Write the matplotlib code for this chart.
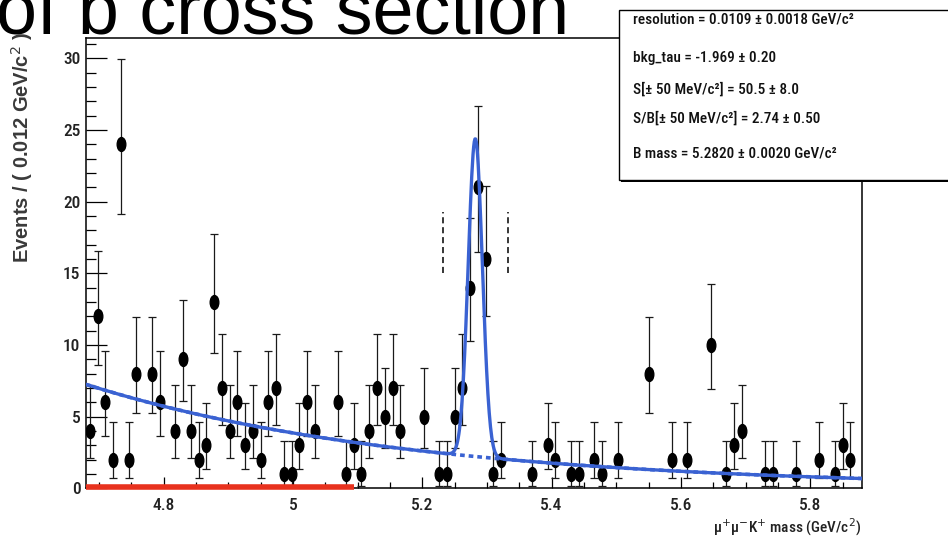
import os
import numpy as np
import matplotlib
matplotlib.use("Agg")
import matplotlib.pyplot as plt
from matplotlib import font_manager as fm
from matplotlib.path import Path
from matplotlib.transforms import Affine2D
from matplotlib.patches import Rectangle
from matplotlib.ticker import FixedLocator, MultipleLocator

# ---- binned mu+ mu- K+ invariant mass spectrum ----
mass_low = 4.68
mass_high = 5.88
bin_width = 0.012
counts = [
    4, 12, 6, 2, 24, 2, 8, 0, 8, 6,
    0, 4, 9, 4, 2, 3, 13, 7, 4, 6,
    3, 4, 2, 6, 7, 1, 1, 3, 6, 4,
    0, 0, 6, 1, 3, 1, 4, 7, 5, 7,
    4, 0, 0, 5, 0, 1, 1, 5, 7, 14,
    21, 16, 1, 2, 0, 0, 0, 1, 0, 3,
    2, 0, 1, 1, 0, 2, 1, 0, 2, 0,
    0, 0, 8, 0, 0, 2, 0, 2, 0, 0,
    10, 0, 1, 3, 4, 0, 0, 1, 1, 0,
    0, 1, 0, 0, 2, 0, 1, 3, 2, 0,
]

# ---- fit result: Gaussian signal on an exponential background ----
b_mass = 5.2820
resolution = 0.0109
bkg_tau = -1.969
n_signal = 50.5
bkg_per_bin_at_low = 7.25      # background expectation per bin at mass_low
signal_window = 0.050          # +-50 MeV/c^2
sideband_high = 5.095

fit_lines = [
    "resolution = 0.0109 ± 0.0018 GeV/c²",
    "bkg_tau = -1.969 ± 0.20",
    "S[± 50 MeV/c²] = 50.5 ± 8.0",
    "S/B[± 50 MeV/c²] = 2.74 ± 0.50",
    "B mass = 5.2820 ± 0.0020 GeV/c²",
]
fit_line_y_px = [19, 58, 89, 118, 153]

x_ticks = [4.8, 5.0, 5.2, 5.4, 5.6, 5.8]
x_tick_labels = ["4.8", "5", "5.2", "5.4", "5.6", "5.8"]
y_ticks = [0, 5, 10, 15, 20, 25, 30]
y_tick_labels = ["0", "5", "10", "15", "20", "25", "30"]


def narrow_font():
    """Pick an installed narrow/condensed sans face; fall back to Liberation Sans."""
    prefs = ["liberationsansnarrow-regular", "robotocondensed-medium",
             "robotocondensed-regular", "opensans_condensed-regular",
             "opensanscondensed", "dejavusanscondensed.ttf",
             "notosans-condensed.ttf", "notosanscondensed-regular"]
    files = {os.path.basename(f.fname).lower(): f.fname for f in fm.fontManager.ttflist}
    for p in prefs:
        for name, path in files.items():
            if name.startswith(p) or name == p:
                return fm.FontProperties(fname=path), 1.0
    for name, path in files.items():
        if ("narrow" in name or "condensed" in name) and "bold" not in name \
                and "italic" not in name and "oblique" not in name and "light" not in name:
            return fm.FontProperties(fname=path), 1.0
    return fm.FontProperties(family="Liberation Sans"), 0.82


W, H, DPI = 948, 541, 100
BLUE = "#3a62d2"
narrow, nscale = narrow_font()


def nfp(size):
    fp = narrow.copy()
    fp.set_size(size * nscale)
    return fp


fig = plt.figure(figsize=(W / DPI, H / DPI), dpi=DPI)
fig.patch.set_facecolor("white")

# plot frame in pixel geometry
x0, x1 = 86, 862
y_top, y_bot = 37.5, 488.3
ax = fig.add_axes([x0 / W, (H - y_bot) / H, (x1 - x0) / W, (y_bot - y_top) / H])
ax.set_xlim(mass_low, mass_high)
ax.set_ylim(0, 31.45)

# data points with Poisson (Gehrels) intervals, empty bins not shown
n = np.asarray(counts, dtype=float)
centers = mass_low + bin_width * (np.arange(n.size) + 0.5)
keep = n > 0
nk = n[keep]
upper = nk + np.sqrt(nk + 0.75) + 1.0
lower = nk * (1.0 - 1.0 / (9.0 * nk) - 1.0 / (3.0 * np.sqrt(nk))) ** 3
ellipse = Path(Affine2D().scale(0.62, 1.0).transform(Path.unit_circle().vertices),
               Path.unit_circle().codes)
ax.errorbar(centers[keep], nk, yerr=[nk - lower, upper - nk], fmt="none",
            ecolor="#1a1a1a", elinewidth=0.9, capsize=3.2, capthick=0.9, zorder=3)
ax.plot(centers[keep], nk, linestyle="none", marker=ellipse, markersize=10,
        color="black", zorder=4)

# fit curves
xf = np.linspace(mass_low, mass_high, 1200)
bkg = bkg_per_bin_at_low * np.exp(bkg_tau * (xf - mass_low))
sig = n_signal * bin_width / (np.sqrt(2 * np.pi) * resolution) * \
    np.exp(-0.5 * ((xf - b_mass) / resolution) ** 2)
ax.plot(xf, bkg, color=BLUE, lw=2.6, dashes=(1.3, 1.1), zorder=5)
ax.plot(xf, bkg + sig, color=BLUE, lw=2.4, zorder=6)

# signal window markers
for xv in (b_mass - signal_window, b_mass + signal_window):
    ax.plot([xv, xv], [15.0, 19.3], color="black", lw=1.1, dashes=(4, 2.5), zorder=5)

# low-mass sideband
ax.plot([mass_low, sideband_high], [0.1, 0.1], color="#e8321e", lw=4.0,
        solid_capstyle="butt", zorder=7, clip_on=False)

# axes styling
for side in ("left", "bottom", "top", "right"):
    ax.spines[side].set_linewidth(1.1)
ax.xaxis.set_major_locator(FixedLocator(x_ticks))
ax.set_xticklabels(x_tick_labels)
ax.xaxis.set_minor_locator(MultipleLocator(0.05))
ax.yaxis.set_major_locator(FixedLocator(y_ticks))
ax.set_yticklabels(y_tick_labels)
ax.yaxis.set_minor_locator(MultipleLocator(1))
ax.tick_params(axis="x", which="major", direction="in", length=8, width=0.9, pad=7)
ax.tick_params(axis="x", which="minor", direction="in", length=4.3, width=0.9)
ax.tick_params(axis="y", which="major", direction="in", length=15, width=0.9, pad=4)
ax.tick_params(axis="y", which="minor", direction="in", length=7.2, width=0.9)
for lab in ax.get_xticklabels() + ax.get_yticklabels():
    lab.set_fontproperties(nfp(12.5))
    lab.set_color("#222222")

# axis titles
fig.text(861 / W, 1 - 527 / H, "μ$^{+}$μ$^{-}$K$^{+}$ mass (GeV/c$^{2}$)",
         ha="right", va="center", fontproperties=nfp(11), color="#222222")
fig.text(22 / W, 1 - 147 / H, "Events / ( 0.012 GeV/c$^{2}$ )", rotation=90,
         ha="center", va="center", fontsize=14.5, family="Liberation Sans",
         fontweight="bold", color="#3a3a3a")

# slide heading
fig.text(-4 / W, 1 - 33 / H, "of b cross section", ha="left", va="baseline",
         fontsize=53, family="Liberation Sans", color="black")

# fit result box (with drop shadow)
bx0, by0, bx1, by1 = 619, 10, 960, 180
fig.patches.append(Rectangle(((bx0 + 2) / W, (H - by1 - 2) / H),
                             (bx1 - bx0) / W, (by1 - by0) / H,
                             transform=fig.transFigure, facecolor="black",
                             edgecolor="none", zorder=8))
fig.patches.append(Rectangle((bx0 / W, (H - by1) / H), (bx1 - bx0) / W,
                             (by1 - by0) / H, transform=fig.transFigure,
                             facecolor="white", edgecolor="black", lw=1.0, zorder=9))
for txt, ypx in zip(fit_lines, fit_line_y_px):
    fig.text(633 / W, 1 - ypx / H, txt, ha="left", va="center",
             fontproperties=nfp(11), color="#111111", zorder=10)

fig.savefig("out.png", dpi=DPI, facecolor="white")
